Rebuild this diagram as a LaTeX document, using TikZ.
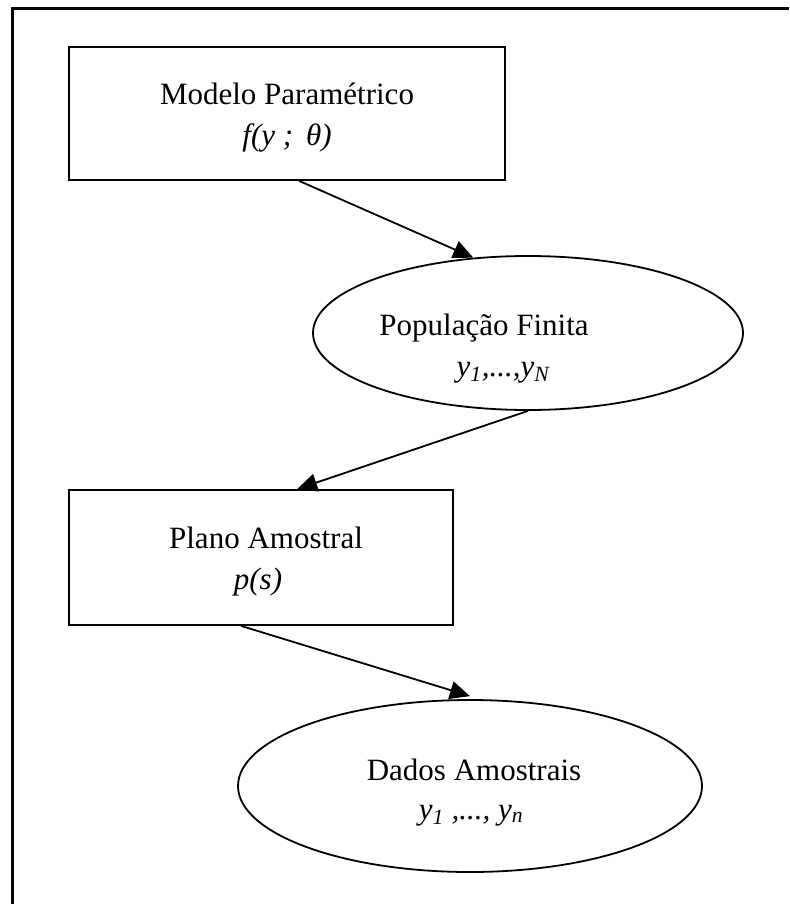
\documentclass[tikz,border=0pt]{standalone}
\usepackage{fontspec}
\setmainfont{Liberation Serif}
\usetikzlibrary{shapes.geometric,arrows.meta,calc}
\begin{document}
\begin{tikzpicture}[x=1pt,y=-1pt,
  every node/.style={font=\fontsize{31}{37}\selectfont},
  boxnode/.style={draw=black,line width=1.8pt,rectangle,inner sep=0pt},
  ellnode/.style={draw=black,line width=1.8pt,ellipse,inner sep=0pt},
  txt/.style={anchor=base,inner sep=0pt},
  flow/.style={line width=1.8pt,-{Triangle[length=20pt,width=18pt]}}]
\useasboundingbox (0,0) rectangle (789,904);
\draw[line width=3pt] (12,904) -- (12,9) -- (789,9);
% shapes
\node[boxnode,minimum width=436pt,minimum height=133pt] (b1) at (287,113.5) {};
\node[ellnode,minimum width=430pt,minimum height=154pt] (e1) at (528,333) {};
\node[boxnode,minimum width=384pt,minimum height=135pt] (b2) at (261,557.5) {};
\node[ellnode,minimum width=464pt,minimum height=172pt] (e2) at (470,786) {};
% texts
\node[txt] (t1a) at (287,105) {Modelo Paramétrico};
\node[txt] (t1b) at (287,146) {\itshape f(y ;\, θ)};
\node[txt] (t2a) at (484,335) {População Finita};
\node[txt] (t2b) at (503,376) {\itshape y\textsubscript{1},...,y\textsubscript{N}};
\node[txt] (t3a) at (266,548) {Plano Amostral};
\node[txt] (t3b) at (258,589) {\itshape p(s)};
\node[txt] (t4a) at (474,780) {Dados Amostrais};
\node[txt] (t4b) at (471,819) {\itshape y\textsubscript{1} ,..., y\textsubscript{n}};
% connectors
\draw[flow] ($(b1.south west)+(231,0)$) -- (e1.126);
\draw[flow] (e1.south) -- ($(b2.north west)+(229,0)$);
\draw[flow] ($(b2.south west)+(173,0)$) -- ($(e2.north)+(0,-3)$);
\end{tikzpicture}
\end{document}
